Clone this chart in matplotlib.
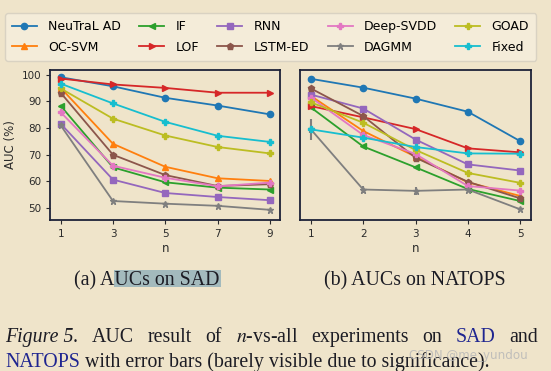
import matplotlib
matplotlib.use("Agg")
import matplotlib.pyplot as plt
from matplotlib.patches import Rectangle

# ---------------- data ----------------
methods = ["NeuTraL AD", "OC-SVM", "IF", "LOF", "RNN", "LSTM-ED",
           "Deep-SVDD", "DAGMM", "GOAD", "Fixed"]
markers = ["o", "^", "<", ">", "s", "p", "P", "*", "P", "P"]

n_sad = [1, 3, 5, 7, 9]
sad = {
    "NeuTraL AD": [99.0, 95.6, 91.3, 88.4, 85.1],
    "OC-SVM":     [95.0, 74.1, 65.5, 61.2, 60.2],
    "IF":         [88.3, 65.3, 59.7, 57.7, 57.0],
    "LOF":        [98.5, 96.3, 95.0, 93.2, 93.2],
    "RNN":        [81.6, 60.7, 55.7, 54.2, 53.0],
    "LSTM-ED":    [93.2, 70.0, 62.4, 58.3, 59.0],
    "Deep-SVDD":  [85.9, 65.9, 61.4, 58.2, 59.6],
    "DAGMM":      [81.0, 52.7, 51.7, 50.9, 49.4],
    "GOAD":       [94.8, 83.5, 77.2, 72.9, 70.5],
    "Fixed":      [96.6, 89.2, 82.3, 77.1, 74.8],
}
sad_err = {
    "DAGMM": [0.4, 0.4, 0.3, 0.3, 0.3],
}

n_natops = [1, 2, 3, 4, 5]
natops = {
    "NeuTraL AD": [98.4, 95.1, 91.0, 86.1, 75.1],
    "OC-SVM":     [92.0, 78.9, 69.3, 59.7, 54.6],
    "IF":         [87.7, 73.1, 65.3, 57.2, 52.7],
    "LOF":        [88.2, 84.0, 79.6, 72.4, 70.9],
    "RNN":        [92.5, 87.3, 75.7, 66.4, 64.1],
    "LSTM-ED":    [94.8, 84.5, 68.9, 59.9, 53.7],
    "Deep-SVDD":  [91.4, 77.4, 70.3, 58.3, 56.6],
    "DAGMM":      [79.5, 57.0, 56.5, 57.0, 49.6],
    "GOAD":       [89.6, 82.0, 71.8, 63.2, 59.5],
    "Fixed":      [79.5, 76.4, 72.9, 70.5, 70.4],
}
natops_err = {
    "DAGMM":   [3.8, 1.4, 1.4, 1.0, 0.5],
    "LSTM-ED": [0.4, 1.6, 1.6, 0.5, 0.4],
    "Fixed":   [0.5, 0.5, 0.5, 0.8, 0.8],
}

yticks = [50, 60, 70, 80, 90, 100]
sub_a = "(a) AUCs on SAD"
sub_b = "(b) AUCs on NATOPS"
cap_line1 = ["Figure 5.", "AUC", "result", "of", "$n$-vs-all", "experiments",
             "on", "SAD", "and"]
cap_line2_a = "NATOPS"
cap_line2_b = "with error bars (barely visible due to significance)."
watermark = "CSDN @me_yundou"

# ---------------- style ----------------
W, H = 551, 371
BG = "#efe4ca"
SPINE = "#1d2238"
TXT = "#1c1c24"
LINK = "#1f2590"
colors = plt.rcParams["axes.prop_cycle"].by_key()["color"]
plt.rcParams["mathtext.fontset"] = "stix"

fig = plt.figure(figsize=(W / 100, H / 100), dpi=100, facecolor=BG)


def fx(px):
    return px / W


def fy(py):
    return 1 - py / H


ax1 = fig.add_axes([fx(50.2), fy(220), fx(230.2), 150 / H], facecolor=BG)
ax2 = fig.add_axes([fx(300.4), fy(220), fx(230.2), 150 / H], facecolor=BG, sharey=ax1)

handles = []
for ax, xs, data, errs in [(ax1, n_sad, sad, sad_err), (ax2, n_natops, natops, natops_err)]:
    for i, m in enumerate(methods):
        e = errs.get(m, [0.2] * len(xs))
        h = ax.errorbar(xs, data[m], yerr=e, color=colors[i], marker=markers[i],
                        markersize=4.5, linewidth=1.3, elinewidth=1.5, capsize=0,
                        label=m)
        if ax is ax1:
            handles.append(h.lines[0])
    for s in ax.spines.values():
        s.set_color(SPINE)
        s.set_linewidth(1.3)
    ax.tick_params(labelsize=7.5, colors="#2a2a2a", length=3, width=0.8)
    ax.set_xticks(xs)
    ax.set_xlabel("n", fontsize=8.5, color="#2a2a2a", labelpad=2)

ax1.set_ylim(45.6, 101.7)
ax1.set_yticks(yticks)
ax1.set_ylabel("AUC (%)", fontsize=8.5, color="#2a2a2a", labelpad=3)
ax2.tick_params(axis="y", length=0, labelleft=False)

leg = fig.legend(handles=handles, labels=methods, ncol=5, loc="upper left",
                 bbox_to_anchor=(fx(5), fy(13), fx(531), 0.0), mode="expand",
                 fontsize=9, frameon=True, handlelength=2.0, handletextpad=0.9,
                 labelspacing=0.62, borderaxespad=0, borderpad=0.55)
leg.get_frame().set_facecolor("#f4ecd9")
leg.get_frame().set_edgecolor("#d9d2c2")
leg.get_frame().set_alpha(1)
leg.get_frame().set_boxstyle("round,pad=0,rounding_size=0.2")

# highlight behind "UCs on SAD"
fig.patches.append(Rectangle((fx(114), fy(287)), fx(107), 17 / H,
                             transform=fig.transFigure, facecolor="#a3babd",
                             edgecolor="none", zorder=0))

SERIF = "Liberation Serif"
FS = 14.3
fig.text(fx(146.4), fy(285.5), sub_a, ha="center", va="baseline",
         family=SERIF, fontsize=FS, color=TXT)
fig.text(fx(414.8), fy(285.5), sub_b, ha="center", va="baseline",
         family=SERIF, fontsize=FS, color=TXT)

# justified caption line 1
fig.canvas.draw()
renderer = fig.canvas.get_renderer()
words = []
for w in cap_line1:
    style = "italic" if w.startswith("Figure") else "normal"
    col = LINK if w == "SAD" else TXT
    t = fig.text(0, fy(342), w, ha="left", va="baseline", family=SERIF,
                 fontsize=FS, style=style, color=col)
    words.append(t)
widths = [t.get_window_extent(renderer).width for t in words]
x0, x1 = 5.3, 537.6
gap = (x1 - x0 - sum(widths)) / (len(words) - 1)
x = x0
for t, wd in zip(words, widths):
    t.set_x(fx(x))
    x += wd + gap

t2 = fig.text(fx(5.3), fy(367.2), cap_line2_a, ha="left", va="baseline",
              family=SERIF, fontsize=FS, color=LINK)
w2 = t2.get_window_extent(renderer).width
fig.text(fx(5.3 + w2 + 5), fy(367.2), cap_line2_b, ha="left", va="baseline",
         family=SERIF, fontsize=FS, color=TXT)

fig.text(fx(409), fy(355), watermark, ha="left", va="center",
         fontsize=8.6, color="#b8b8b8", alpha=0.85, family="DejaVu Sans")

fig.savefig("out.png", dpi=100, facecolor=BG)
